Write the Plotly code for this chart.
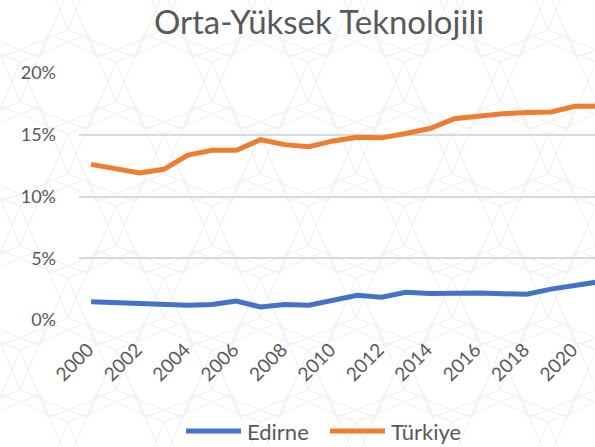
import math
import plotly.graph_objects as go

years = list(range(2000, 2022))
edirne = [1.48, 1.40, 1.30, 1.28, 1.20, 1.25, 1.54, 1.05, 1.25, 1.20, 1.60, 2.00,
          1.85, 2.25, 2.15, 2.20, 2.18, 2.13, 2.08, 2.50, 2.85, 3.10]
turkiye = [12.6, 12.3, 11.9, 12.2, 13.35, 13.75, 13.75, 14.6, 14.2, 14.03, 14.5, 14.8,
           14.75, 15.1, 15.5, 16.3, 16.55, 16.7, 16.8, 16.85, 17.3, 17.3]
tick_years = list(range(2000, 2021, 2))
y_ticks = [0, 5, 10, 15, 20]

FONT = "Lato, 'Open Sans', sans-serif"
GREY = "#595959"
BLUE = "#4472C4"
ORANGE = "#ED7D31"

# plot area in pixels (used for decorative layout elements only)
L, T, R, B = 79, 73, 595, 320
W, H = R - L, B - T


def px(x):
    return (x - L) / W


def py(y):
    return (B - y) / H


fig = go.Figure()
fig.add_trace(go.Scatter(x=years, y=[v / 100 for v in edirne], name="Edirne", mode="lines",
                         line=dict(color=BLUE, width=5)))
fig.add_trace(go.Scatter(x=years, y=[v / 100 for v in turkiye], name="Türkiye", mode="lines",
                         line=dict(color=ORANGE, width=5)))

# faint decorative star pattern in the background
path = []
step = 96
rad = 52
for row in range(-1, 7):
    for col in range(-1, 8):
        cx = col * step + (step / 2 if row % 2 else 0) + 20
        cy = row * step * 0.75 + 10
        for rot in (0, 45):
            pts = []
            for k in range(4):
                a = math.radians(rot + 22.5 + 90 * k)
                pts.append((px(cx + rad * math.cos(a)), py(cy + rad * math.sin(a))))
            path.append("M" + " L".join(f"{x:.4f},{y:.4f}" for x, y in pts) + " Z")
shapes = [dict(type="path", path=" ".join(path), xref="paper", yref="paper",
               line=dict(color="#F2F2F7", width=1.3), layer="below")]

# legend drawn as layout decoration (longer line keys than Plotly's legend allows)
legend_items = [("Edirne", BLUE, 186, 241, 245), ("Türkiye", ORANGE, 330, 385, 389)]
annotations = []
for name, color, x0, x1, tx in legend_items:
    shapes.append(dict(type="line", xref="paper", yref="paper", x0=px(x0), x1=px(x1),
                       y0=py(431), y1=py(431), line=dict(color=color, width=5)))
    annotations.append(dict(text=name, xref="paper", yref="paper", x=px(tx), y=py(431),
                            xanchor="left", yanchor="middle", showarrow=False,
                            font=dict(family=FONT, size=22, color=GREY)))

fig.update_layout(
    width=595, height=447,
    margin=dict(l=L, r=595 - R, t=T, b=447 - B, autoexpand=False),
    paper_bgcolor="white", plot_bgcolor="rgba(0,0,0,0)",
    title=dict(text="Orta-Yüksek Teknolojili", x=319 / 595, xref="container", y=1 - 22 / 447,
               yref="container", xanchor="center", yanchor="middle",
               font=dict(family=FONT, size=33, color=GREY)),
    showlegend=False,
    shapes=shapes,
    annotations=annotations,
    xaxis=dict(range=[1999.5, 2020.82], tickmode="array", tickvals=tick_years,
               ticktext=[str(y) for y in tick_years], tickangle=-45, automargin=False,
               tickfont=dict(family=FONT, size=19, color=GREY), showgrid=False,
               zeroline=False, showline=False, ticks="", ticklabelstandoff=14,
               ticklabelshift=-3),
    yaxis=dict(range=[0, 0.2], tickmode="array", tickvals=[v / 100 for v in y_ticks],
               ticktext=[f"{v}%" for v in y_ticks], automargin=False,
               tickfont=dict(family=FONT, size=18, color=GREY), showgrid=True,
               gridcolor="#D9D9D9", gridwidth=1.5, zeroline=False, ticks="",
               ticklabelstandoff=22),
)

fig.write_html("out.html", config={"displayModeBar": False},
               post_script="document.body.style.margin='0';")
